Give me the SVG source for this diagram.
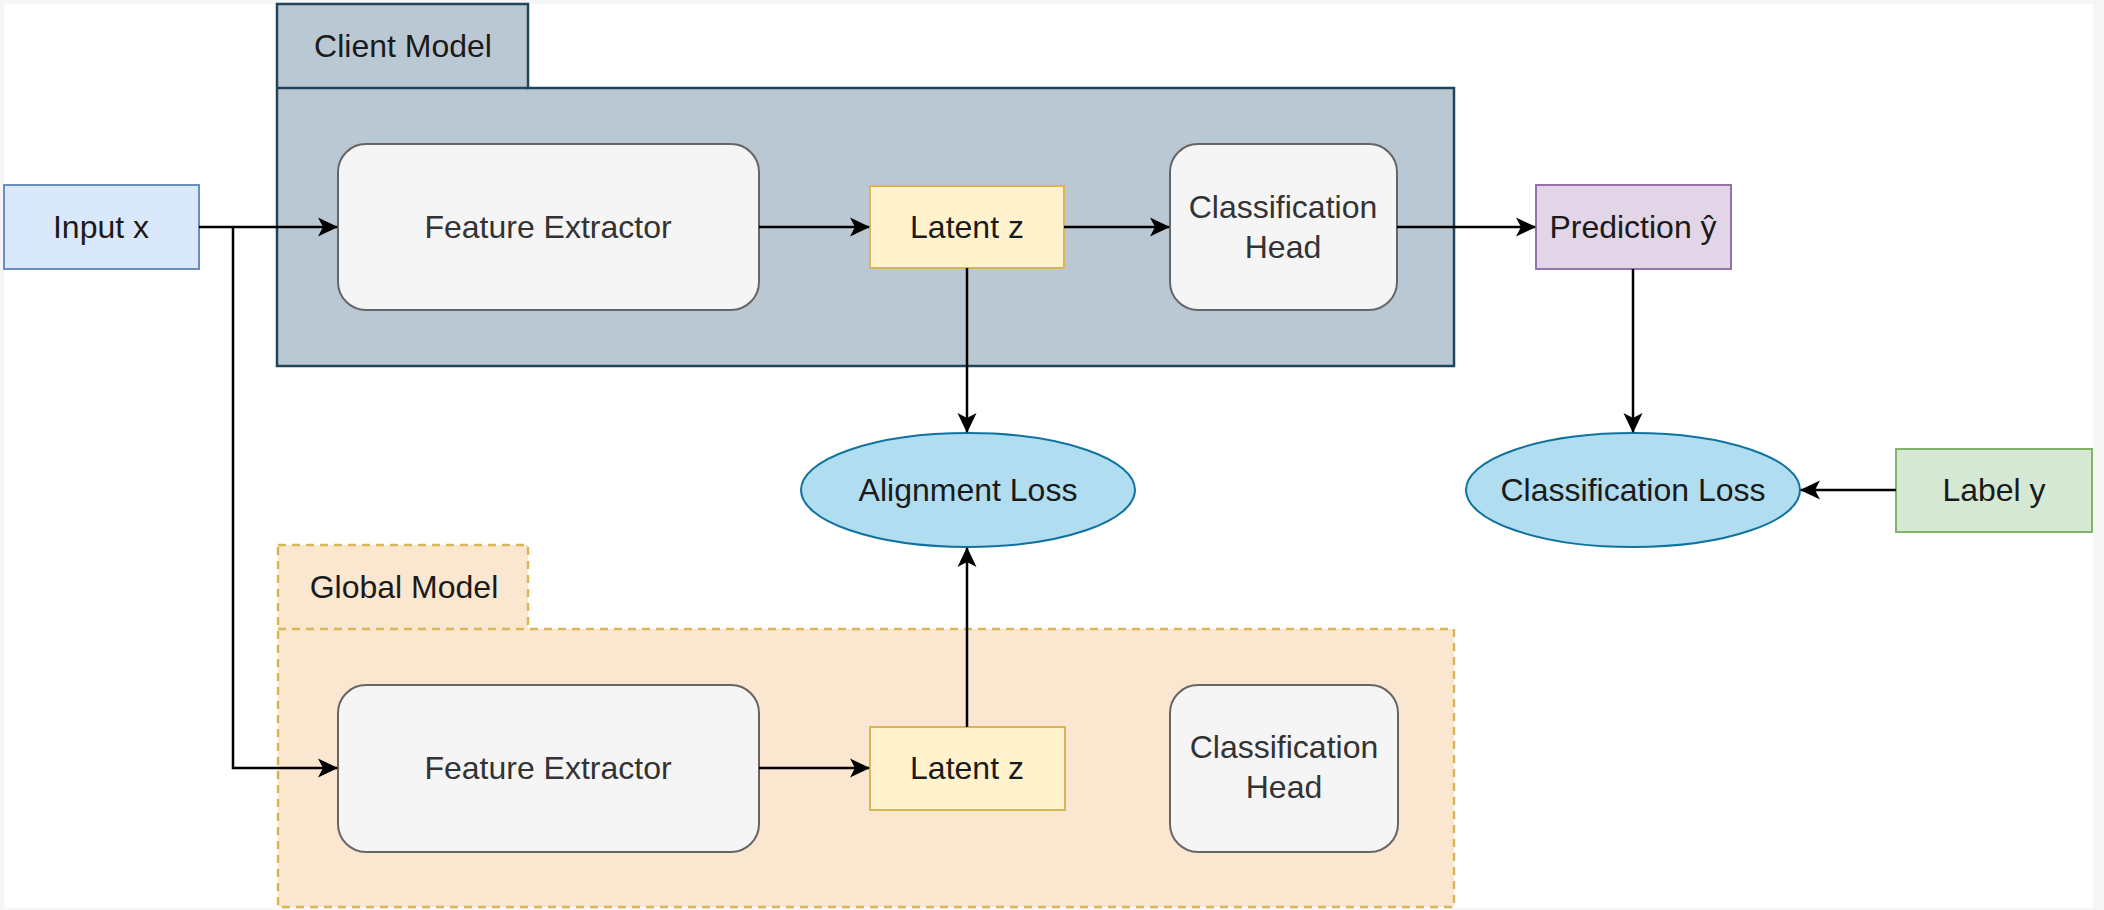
<svg xmlns="http://www.w3.org/2000/svg" width="2104" height="910" viewBox="0 0 2104 910">
<defs>
<style>
text{font-family:"Liberation Sans",Arial,sans-serif;font-size:32px;text-anchor:middle}
.proc{fill:#f5f5f5;stroke:#666666;stroke-width:2}
.proc-t{fill:#333333}
.latent{fill:#fff2cc;stroke:#d6b656;stroke-width:2}
.loss{fill:#b1ddf0;stroke:#10739e;stroke-width:2}
.dark{fill:#1a1a1a}
.conn{fill:none;stroke:#000000;stroke-width:2.5}
</style>
<marker id="arr" viewBox="0 0 20 20" refX="19" refY="10" markerWidth="20" markerHeight="20" markerUnits="userSpaceOnUse" orient="auto">
<path d="M0,0.5 L20,10 L0,19.5 L5,10 Z" fill="#000000"/>
</marker>
</defs>
<rect x="0" y="0" width="2104" height="910" fill="#f6f6f6"/>
<rect x="4" y="4" width="2089" height="904" fill="#ffffff"/>

<g id="client-model">
<path d="M277,4 H528 V88 H1454 V366 H277 Z" fill="#bac8d3" stroke="#23445d" stroke-width="2.5"/>
<path d="M277,88 H528" fill="none" stroke="#23445d" stroke-width="2.5"/>
<text x="403" y="57" class="dark">Client Model</text>
</g>

<g id="global-model">
<path d="M278,545 H528 V629 H1454 V907 H278 Z" fill="#fbe6cf" stroke="#d6b656" stroke-width="2.5" stroke-dasharray="8,6"/>
<path d="M278,629 H528" fill="none" stroke="#d6b656" stroke-width="2.5" stroke-dasharray="8,6"/>
<text x="404" y="598" class="dark">Global Model</text>
</g>

<g id="input-x">
<rect x="4" y="185" width="195" height="84" fill="#dae8fc" stroke="#6c8ebf" stroke-width="2"/>
<text x="101" y="238" class="dark">Input x</text>
</g>

<g id="client-feature-extractor">
<rect x="338" y="144" width="421" height="166" rx="28" ry="28" class="proc"/>
<text x="548" y="238" class="proc-t">Feature Extractor</text>
</g>

<g id="client-latent-z">
<rect x="870" y="186" width="194" height="82" class="latent"/>
<text x="967" y="238" class="dark">Latent z</text>
</g>

<g id="client-classification-head">
<rect x="1170" y="144" width="227" height="166" rx="28" ry="28" class="proc"/>
<text x="1283" y="218" class="proc-t">Classification</text>
<text x="1283" y="258" class="proc-t">Head</text>
</g>

<g id="prediction">
<rect x="1536" y="185" width="195" height="84" fill="#e1d5e7" stroke="#9673a6" stroke-width="2"/>
<text x="1633" y="238" class="dark">Prediction ŷ</text>
</g>

<g id="alignment-loss">
<ellipse cx="968" cy="490" rx="167" ry="57" class="loss"/>
<text x="968" y="501" class="dark">Alignment Loss</text>
</g>

<g id="classification-loss">
<ellipse cx="1633" cy="490" rx="167" ry="57" class="loss"/>
<text x="1633" y="501" class="dark">Classification Loss</text>
</g>

<g id="label-y">
<rect x="1896" y="449" width="196" height="83" fill="#d5e8d4" stroke="#82b366" stroke-width="2"/>
<text x="1994" y="501" class="dark">Label y</text>
</g>

<g id="global-feature-extractor">
<rect x="338" y="685" width="421" height="167" rx="28" ry="28" class="proc"/>
<text x="548" y="779" class="proc-t">Feature Extractor</text>
</g>

<g id="global-latent-z">
<rect x="870" y="727" width="195" height="83" class="latent"/>
<text x="967" y="779" class="dark">Latent z</text>
</g>

<g id="global-classification-head">
<rect x="1170" y="685" width="228" height="167" rx="28" ry="28" class="proc"/>
<text x="1284" y="758" class="proc-t">Classification</text>
<text x="1284" y="798" class="proc-t">Head</text>
</g>

<g id="connectors">
<path class="conn" d="M199,227 H337" marker-end="url(#arr)"/>
<path class="conn" d="M233,227 V768 H337" marker-end="url(#arr)"/>
<path class="conn" d="M759,227 H869" marker-end="url(#arr)"/>
<path class="conn" d="M1064,227 H1169" marker-end="url(#arr)"/>
<path class="conn" d="M1397,227 H1535" marker-end="url(#arr)"/>
<path class="conn" d="M967,268 V432" marker-end="url(#arr)"/>
<path class="conn" d="M1633,269 V432" marker-end="url(#arr)"/>
<path class="conn" d="M1896,490 H1801" marker-end="url(#arr)"/>
<path class="conn" d="M759,768 H869" marker-end="url(#arr)"/>
<path class="conn" d="M967,727 V548" marker-end="url(#arr)"/>
</g>
</svg>
